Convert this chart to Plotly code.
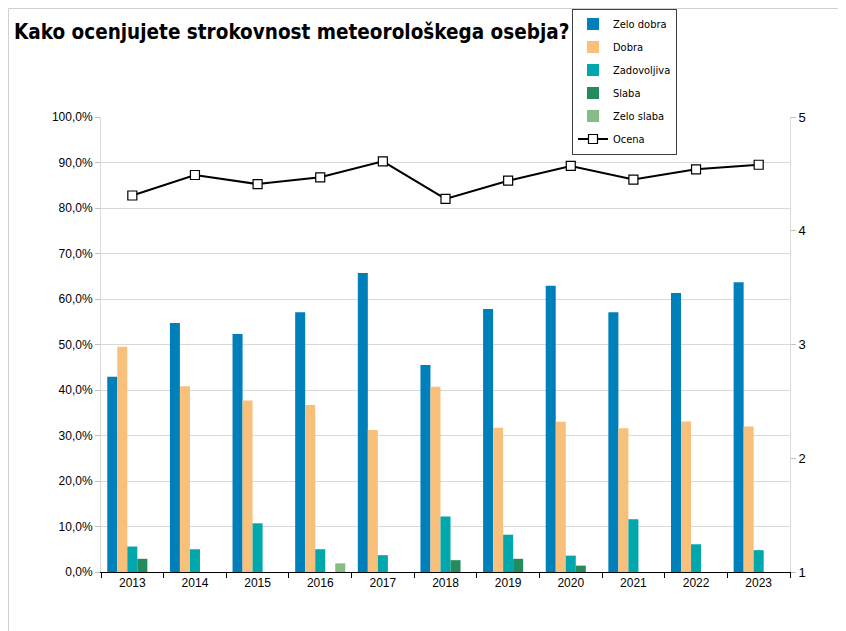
import plotly.graph_objects as go

years = ["2013", "2014", "2015", "2016", "2017", "2018", "2019", "2020", "2021", "2022", "2023"]
zelo_dobra = [42.9, 54.7, 52.3, 57.1, 65.7, 45.5, 57.8, 62.9, 57.1, 61.3, 63.7]
dobra = [49.5, 40.8, 37.7, 36.7, 31.2, 40.7, 31.7, 33.0, 31.6, 33.1, 32.0]
zadovoljiva = [5.6, 5.0, 10.7, 5.0, 3.7, 12.2, 8.2, 3.6, 11.6, 6.1, 4.8]
slaba = [2.9, 0, 0, 0, 0, 2.6, 2.9, 1.4, 0, 0, 0]
zelo_slaba = [0, 0, 0, 1.9, 0, 0, 0, 0, 0, 0, 0]
ocena = [4.31, 4.49, 4.41, 4.47, 4.61, 4.28, 4.44, 4.57, 4.45, 4.54, 4.58]

series = [
    ("Zelo dobra", zelo_dobra, "#0080BA"),
    ("Dobra", dobra, "#F8C07A"),
    ("Zadovoljiva", zadovoljiva, "#00A8AE"),
    ("Slaba", slaba, "#238B5E"),
    ("Zelo slaba", zelo_slaba, "#86BC86"),
]

FONT = "DejaVu Sans Condensed, Liberation Sans, sans-serif"
TICKFONT = "Liberation Sans, Arial, sans-serif"

fig = go.Figure()
for name, vals, col in series:
    fig.add_trace(go.Bar(
        x=years, y=vals, name=name, legendgroup=name,
        marker=dict(color=col, line=dict(width=0)),
    ))
fig.add_trace(go.Scatter(
    x=years, y=ocena, name="Ocena", legendgroup="Ocena", yaxis="y2",
    mode="lines+markers",
    line=dict(color="black", width=2),
    marker=dict(symbol="square", size=9, color="white", line=dict(color="black", width=1.2)),
))

# page offset caused by the default 8px body margin
OFF = 8
L, R, T, B = 101 - OFF, 790 - OFF, 117 - OFF, 572 - OFF
W, H = 846 - OFF, 631 - OFF
pw, ph = R - L, B - T

def px(x):
    return (x - OFF - L) / pw

def py(y):
    return (B - (y - OFF)) / ph

fig.update_layout(
    width=W, height=H, autosize=False,
    margin=dict(l=L, r=W - R, t=T, b=H - B, pad=0, autoexpand=False),
    paper_bgcolor="white", plot_bgcolor="white",
    separators=",.",
    barmode="group", bargap=0.2, bargroupgap=0,
    title=dict(
        text="<b>Kako ocenjujete strokovnost meteorološkega osebja?</b>",
        font=dict(family=FONT, size=20.5, color="black"),
        x=(14 - OFF) / W, xanchor="left", xref="container",
        y=1 - (32 - OFF) / H, yanchor="middle", yref="container",
    ),
    xaxis=dict(
        type="category", range=[-0.5, 10.5],
        showline=True, linecolor="black", linewidth=1,
        ticks="outside", tickson="boundaries", ticklen=5, tickcolor="black",
        tickfont=dict(family=TICKFONT, size=12, color="black"),
        showgrid=False, mirror=False,
    ),
    yaxis=dict(
        range=[0, 100], dtick=10, tickformat=".1f", ticksuffix="%",
        showgrid=True, gridcolor="#D9D9D9", gridwidth=1,
        showline=True, linecolor="#D9D9D9", linewidth=1,
        ticks="outside", ticklen=5, tickcolor="#BFBFBF",
        tickfont=dict(family=TICKFONT, size=12, color="black"),
        zeroline=False,
    ),
    yaxis2=dict(
        overlaying="y", side="right",
        range=[1, 5], dtick=1,
        showgrid=False, zeroline=False,
        showline=True, linecolor="#D9D9D9", linewidth=1,
        ticks="outside", ticklen=5, tickcolor="#BFBFBF",
        tickfont=dict(family=TICKFONT, size=13, color="black"),
    ),
    legend=dict(
        x=px(572), y=py(8.5), xanchor="left", yanchor="top",
        bgcolor="white", bordercolor="#404040", borderwidth=1,
        font=dict(family=FONT, size=11, color="black"),
        traceorder="grouped", tracegroupgap=4,
        itemwidth=30,
    ),
    showlegend=True,
    shapes=[dict(
        type="rect", xref="paper", yref="paper",
        x0=px(8.5), x1=px(870), y0=py(660), y1=py(8.5),
        line=dict(color="#D0D0D0", width=1), fillcolor="rgba(0,0,0,0)",
        layer="below",
    )],
)

fig.write_html("out.html")
